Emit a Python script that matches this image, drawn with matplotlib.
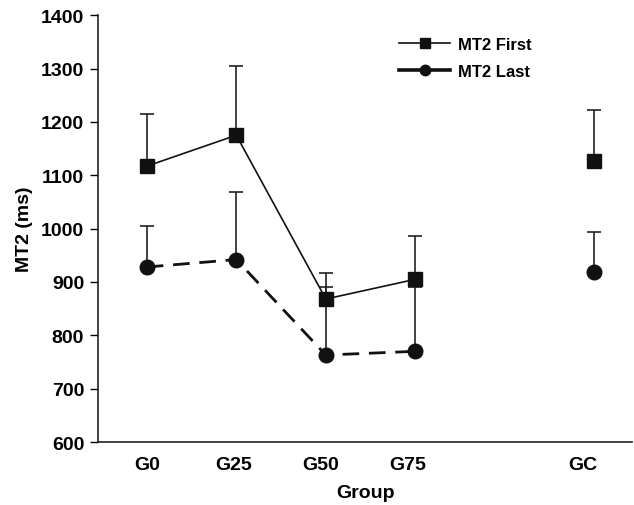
import matplotlib
matplotlib.use("Agg")
import matplotlib.pyplot as plt
from matplotlib.lines import Line2D
import numpy as np

plt.rcParams['font.family'] = ['Liberation Sans', 'DejaVu Sans']
plt.rcParams['font.weight'] = 'bold'

groups = ["G0", "G25", "G50", "G75", "GC"]
xpos = [0, 1, 2, 3, 5]
first_mean = [1117, 1175, 868, 905, 1127]
first_err = [98, 130, 48, 81, 95]
last_mean = [928, 942, 763, 770, 918]
last_err = [76, 126, 127, 120, 75]

fig = plt.figure(figsize=(6.34, 5.06), dpi=100)
ax = fig.add_axes([0.1546, 0.1245, 0.8424, 0.8435])

# error bars (upper only)
ax.errorbar(xpos, first_mean, yerr=[np.zeros(5), first_err], fmt='none',
            ecolor='#222222', elinewidth=1.2, capsize=5, capthick=1.2, zorder=2)
ax.errorbar(xpos, last_mean, yerr=[np.zeros(5), last_err], fmt='none',
            ecolor='#222222', elinewidth=1.2, capsize=5, capthick=1.2, zorder=2)

# connected lines for first four groups
ax.plot(xpos[:4], first_mean[:4], color='#111111', lw=1.2, marker='s', ms=10.5,
        markeredgecolor='#111111', markerfacecolor='#111111', zorder=3)
ax.plot(xpos[:4], last_mean[:4], color='#111111', lw=2.0, ls=(0, (6, 3.5)), marker='o', ms=10.5,
        markeredgecolor='#111111', markerfacecolor='#111111', zorder=3)
# GC unconnected
ax.plot(xpos[4:], first_mean[4:], ls='none', marker='s', ms=10.5, color='#111111', zorder=3)
ax.plot(xpos[4:], last_mean[4:], ls='none', marker='o', ms=10.5, color='#111111', zorder=3)

ax.set_xlim(-0.544, 5.42)
ax.set_ylim(600, 1400)
ax.set_yticks(np.arange(600, 1401, 100))
ax.set_xticks(np.array(xpos) * 0.973)
ax.set_xticklabels(groups)
ax.tick_params(axis='y', direction='out', length=6, width=1, labelsize=14, pad=4)
ax.tick_params(axis='x', length=0, labelsize=14, pad=10)
for s in ['top', 'right']:
    ax.spines[s].set_visible(False)
for s in ['left', 'bottom']:
    ax.spines[s].set_linewidth(1.2)
    ax.spines[s].set_color('#222222')
for lbl in ax.get_xticklabels() + ax.get_yticklabels():
    lbl.set_fontweight('bold')

ax.set_xlabel('Group', fontsize=14, fontweight='bold', labelpad=8)
ax.set_ylabel('MT2 (ms)', fontsize=14, fontweight='bold', labelpad=6)

handles = [
    Line2D([], [], color='#111111', lw=1.2, marker='s', ms=7.5),
    Line2D([], [], color='#111111', lw=2.6, marker='o', ms=7.5),
]
leg = ax.legend(handles, ['MT2 First', 'MT2 Last'], loc='upper left',
                bbox_to_anchor=(0.535, 0.985), frameon=False,
                prop={'weight': 'bold', 'size': 12}, handlelength=3.1,
                handletextpad=0.45, labelspacing=0.75)

fig.savefig('out.png', dpi=100)
